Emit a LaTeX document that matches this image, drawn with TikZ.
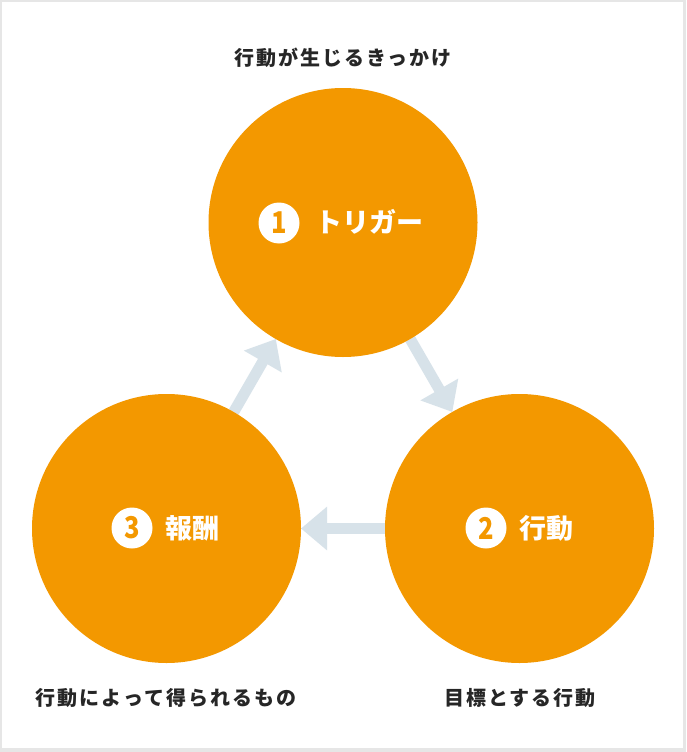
\documentclass[tikz,border=0pt]{standalone}
\usepackage{fontspec}
\setmainfont{Noto Sans CJK JP}
\usetikzlibrary{arrows.meta,backgrounds}
\definecolor{orj}{HTML}{F39800}
\definecolor{arw}{HTML}{D7E2E9}
\definecolor{ink}{HTML}{262626}
\definecolor{framegray}{HTML}{E6E6E6}
\begin{document}
\begin{tikzpicture}[x=1pt,y=-1pt,
  bub/.style={circle, fill=orj, minimum size=269pt, inner sep=0pt, outer sep=0pt},
  num/.style={circle, fill=white, minimum size=41pt, inner sep=0pt, text=orj, font=\bfseries\fontsize{30}{30}\selectfont},
  ttl/.style={anchor=west, inner sep=0pt, text=white, font=\bfseries\fontsize{27}{30}\selectfont},
  captext/.style={inner sep=0pt, text=ink, font=\bfseries\fontsize{20}{24}\selectfont\addfontfeature{LetterSpace=10}},
  flow/.style={draw=arw, line width=11pt, -{Triangle[length=26pt,width=42pt]}}]
\useasboundingbox (0,0) rectangle (686,752);
\node[bub] (trig) at (343,222.5) {};
\node[bub] (act) at (519.5,528.5) {};
\node[bub] (rew) at (166.5,528.5) {};
\begin{scope}[on background layer]
  \fill[framegray] (0,0) rectangle (686,752);
  \fill[white] (2,2) rectangle (683,748);
  \draw[flow] (trig) -- (act);
  \draw[flow] (act) -- (rew);
  \draw[flow] (rew) -- (trig);
\end{scope}
\node[num] (n1) at (279,223) {\scalebox{0.85}[1]{1}};
\node[ttl] (t1) at (315,222) {トリガー};
\node[num] (n2) at (486,528) {\scalebox{0.85}[1]{2}};
\node[ttl] (t2) at (519,528) {行動};
\node[num] (n3) at (132,528) {\scalebox{0.85}[1]{3}};
\node[ttl] (t3) at (165,528) {報酬};
\node[captext] (c1) at (343,58) {行動が生じるきっかけ};
\node[captext] (c2) at (520,698) {目標とする行動};
\node[captext] (c3) at (166,698) {行動によって得られるもの};
\end{tikzpicture}
\end{document}
